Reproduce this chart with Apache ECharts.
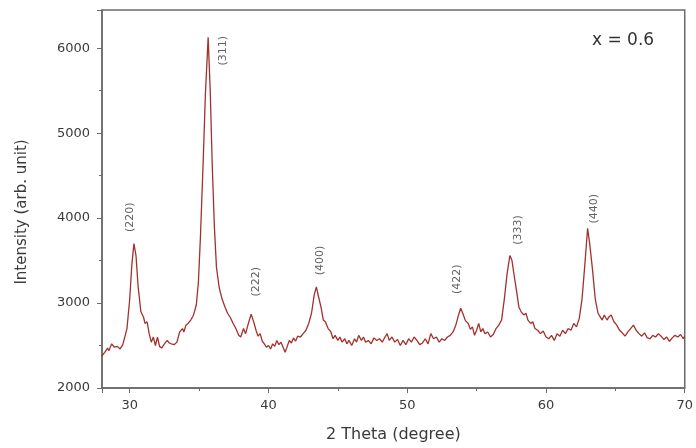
<!DOCTYPE html>
<html>
<head>
<meta charset="utf-8">
<script src="https://cdn.jsdelivr.net/npm/echarts@6/dist/echarts.min.js"></script>
<style>
  html, body { margin: 0; padding: 0; background: #fff; }
  #chart { width: 696px; height: 448px; }
</style>
</head>
<body>
<div id="chart"></div>
<script>
// 2 theta (degree) and intensity
var twoTheta = [
  28.0, 28.2, 28.4, 28.5, 28.7, 28.9, 29.1, 29.3, 29.5, 29.6, 29.8, 30.0, 30.15, 30.3, 30.45, 30.6, 30.8, 31.0, 31.1, 31.25,
  31.4, 31.55, 31.7, 31.85, 32.0, 32.15, 32.3, 32.5, 32.7, 32.85, 33.0, 33.2, 33.4, 33.6, 33.8, 33.9, 34.05, 34.2, 34.4, 34.6,
  34.8, 34.95, 35.1, 35.3, 35.45, 35.65, 35.8, 35.95, 36.1, 36.25, 36.45, 36.65, 36.85, 37.05, 37.25, 37.45, 37.65, 37.85, 38.0, 38.2,
  38.35, 38.55, 38.75, 38.95, 39.1, 39.25, 39.4, 39.55, 39.7, 39.85, 40.0, 40.15, 40.3, 40.45, 40.6, 40.75, 40.9, 41.05, 41.2, 41.35,
  41.5, 41.65, 41.8, 41.95, 42.1, 42.3, 42.5, 42.7, 42.9, 43.1, 43.3, 43.45, 43.6, 43.8, 43.95, 44.1, 44.3, 44.5, 44.65, 44.8,
  45.0, 45.15, 45.3, 45.5, 45.65, 45.8, 46.0, 46.2, 46.35, 46.5, 46.7, 46.85, 47.0, 47.2, 47.4, 47.6, 47.8, 48.0, 48.2, 48.4,
  48.55, 48.7, 48.9, 49.1, 49.3, 49.5, 49.7, 49.9, 50.1, 50.3, 50.5, 50.7, 50.9, 51.1, 51.3, 51.5, 51.7, 51.9, 52.1, 52.3,
  52.5, 52.7, 52.9, 53.1, 53.3, 53.5, 53.7, 53.85, 54.0, 54.2, 54.4, 54.55, 54.7, 54.85, 55.0, 55.15, 55.3, 55.45, 55.6, 55.8,
  56.0, 56.2, 56.4, 56.6, 56.8, 57.0, 57.2, 57.4, 57.55, 57.7, 57.9, 58.05, 58.2, 58.4, 58.55, 58.7, 58.9, 59.05, 59.2, 59.4,
  59.6, 59.8, 60.0, 60.2, 60.4, 60.6, 60.8, 61.0, 61.2, 61.4, 61.6, 61.8, 62.0, 62.2, 62.4, 62.6, 62.8, 63.0, 63.15, 63.35,
  63.55, 63.75, 63.9, 64.05, 64.2, 64.4, 64.55, 64.7, 64.9, 65.1, 65.3, 65.5, 65.7, 65.9, 66.1, 66.3, 66.5, 66.7, 66.9, 67.1,
  67.3, 67.5, 67.7, 67.9, 68.1, 68.3, 68.5, 68.7, 68.9, 69.1, 69.3, 69.5, 69.7, 69.9, 70.0
];
var intensity = [
  2380, 2420, 2470, 2440, 2520, 2480, 2490, 2460, 2510, 2490, 2700, 3050, 3450, 3700, 3560, 3200, 2900, 2830, 2760, 2780,
  2640, 2540, 2600, 2500, 2600, 2490, 2470, 2520, 2560, 2530, 2520, 2510, 2540, 2660, 2700, 2660, 2740, 2760, 2800, 2860,
  2980, 3250, 3800, 4700, 5450, 6130, 5500, 4600, 3900, 3420, 3180, 3050, 2960, 2880, 2830, 2760, 2700, 2620, 2600, 2700,
  2640, 2760, 2870, 2770, 2680, 2610, 2640, 2550, 2520, 2480, 2500, 2460, 2520, 2490, 2560, 2510, 2540, 2480, 2420, 2490,
  2560, 2530, 2590, 2550, 2610, 2600, 2640, 2680, 2760, 2880, 3100, 3190, 3080, 2940, 2800, 2780, 2700, 2660, 2580, 2620,
  2560, 2600, 2540, 2580, 2520, 2560, 2500, 2580, 2540, 2620, 2560, 2600, 2540, 2560, 2520, 2590, 2560, 2580, 2540, 2600,
  2640, 2560, 2600, 2540, 2570, 2500, 2560, 2510, 2580, 2540, 2600, 2560, 2510, 2530, 2580, 2520, 2640, 2580, 2600, 2540,
  2580, 2560, 2600, 2620, 2660, 2740, 2860, 2940, 2880, 2790, 2760, 2690, 2720, 2620, 2680, 2760, 2660, 2700, 2640, 2660,
  2600, 2630, 2700, 2740, 2800, 3050, 3350, 3560, 3500, 3330, 3120, 2950, 2900, 2860, 2880, 2800, 2760, 2780, 2700, 2680,
  2640, 2670, 2600, 2580, 2620, 2560, 2640, 2610, 2680, 2640, 2700, 2680, 2760, 2720, 2820, 3050, 3450, 3880, 3700, 3400,
  3050, 2880, 2840, 2800, 2860, 2800, 2840, 2860, 2780, 2740, 2680, 2650, 2610, 2660, 2700, 2740, 2680, 2640, 2610, 2650,
  2590, 2580, 2620, 2600, 2640, 2610, 2570, 2600, 2550, 2590, 2620, 2600, 2630, 2580, 2610
];

// Miller indices written beside the peaks
var peakNames = ['(220)', '(311)', '(222)', '(400)', '(422)', '(333)', '(440)'];
var peakLabelX = [30.05, 36.7, 39.1, 43.75, 53.6, 58.0, 63.5];
var peakLabelY = [4010, 5970, 3250, 3500, 3280, 3860, 4110];

var sampleText = 'x = 0.6';

var lineData = twoTheta.map(function (t, i) { return [t, intensity[i]]; });
var labelData = peakNames.map(function (n, i) {
  return { name: n, value: [peakLabelX[i], peakLabelY[i]] };
});

var font = 'DejaVu Sans, Arial, sans-serif';
var textColor = '#3a3a3a';

var chart = echarts.init(document.getElementById('chart'));
chart.setOption({
  animation: false,
  backgroundColor: '#fff',
  grid: {
    left: 102, right: 4, top: 10, bottom: 58,
    show: true, borderColor: '#6a6a6a', borderWidth: 1.5
  },
  xAxis: {
    type: 'value',
    min: 28,
    max: 70,
    splitNumber: 4,
    name: '2 Theta (degree)',
    nameLocation: 'middle',
    nameGap: 39,
    nameTextStyle: { fontFamily: font, fontSize: 16, color: textColor },
    axisLine: { lineStyle: { color: '#6a6a6a', width: 1.5 } },
    axisTick: { inside: false, length: 5, lineStyle: { color: '#6a6a6a' } },
    minorTick: { show: true, splitNumber: 2, length: 3, lineStyle: { color: '#6a6a6a' } },
    axisLabel: { showMinLabel: false, margin: 11, fontFamily: font, fontSize: 13, color: textColor },
    splitLine: { show: false }
  },
  yAxis: {
    type: 'value',
    min: 2000,
    max: 6450,
    interval: 1000,
    name: 'Intensity (arb. unit)',
    nameLocation: 'middle',
    nameGap: 72,
    nameTextStyle: { fontFamily: font, fontSize: 15, color: textColor, padding: [0, 26, 0, 0] },
    axisLine: { show: true, lineStyle: { color: '#6a6a6a', width: 1.5 } },
    axisTick: { show: true, inside: false, length: 5, lineStyle: { color: '#6a6a6a' } },
    minorTick: { show: true, splitNumber: 2, length: 3, lineStyle: { color: '#6a6a6a' } },
    axisLabel: {
      showMaxLabel: false, margin: 12, fontFamily: font, fontSize: 13, color: textColor,
      formatter: function (v) { return String(v); }
    },
    splitLine: { show: false }
  },
  graphic: [{
    type: 'text',
    left: 592,
    top: 32,
    style: { text: sampleText, font: '17px DejaVu Sans, Arial, sans-serif', fill: '#333' }
  }],
  series: [
    {
      type: 'line',
      data: lineData,
      showSymbol: false,
      lineStyle: { color: '#a2302d', width: 1.3 },
      z: 3
    },
    {
      type: 'scatter',
      data: labelData,
      symbolSize: 0,
      label: {
        show: true,
        position: 'inside',
        rotate: 90,
        formatter: '{b}',
        fontFamily: font,
        fontSize: 11,
        color: textColor
      },
      z: 4
    }
  ]
});
</script>
</body>
</html>
